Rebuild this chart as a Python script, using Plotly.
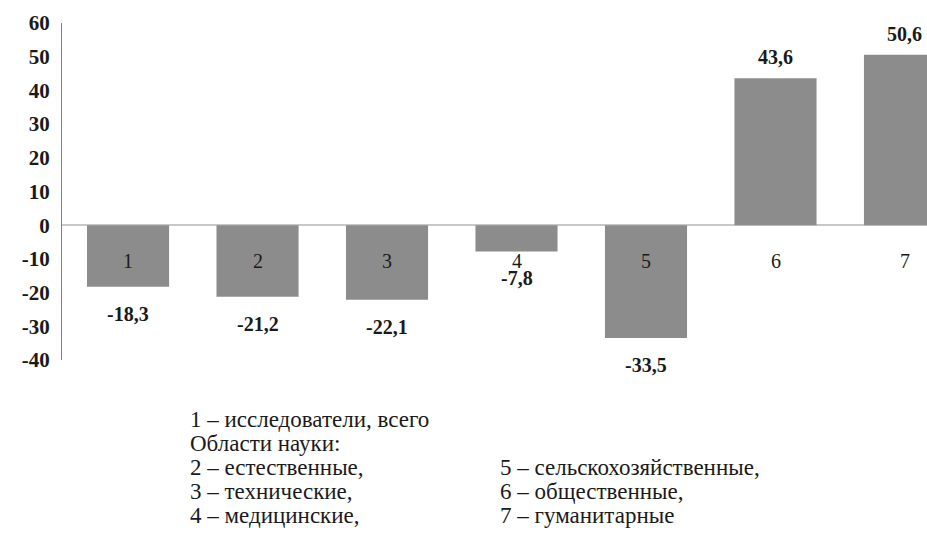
import plotly.graph_objects as go

categories = ["1", "2", "3", "4", "5", "6", "7"]
values = [-18.3, -21.2, -22.1, -7.8, -33.5, 43.6, 50.6]
y_ticks = [-40, -30, -20, -10, 0, 10, 20, 30, 40, 50, 60]

legend_col1 = [
    "1 – исследователи, всего",
    "Области науки:",
    "2 – естественные,",
    "3 – технические,",
    "4 – медицинские,",
]
legend_col2 = [
    "5 – сельскохозяйственные,",
    "6 – общественные,",
    "7 – гуманитарные",
]

W, H = 927, 540
L, R, T, B = 62, 0, 23, 180
PW, PH = W - L - R, H - T - B

FONT = "'Liberation Serif', 'Times New Roman', Tinos, 'DejaVu Serif', serif"
TXT = "#1a1a1a"

def px_to_paper(px, py):
    return (px - L) / PW, (H - B - py) / PH

xpos = list(range(len(categories)))

fig = go.Figure()
fig.add_trace(go.Bar(
    x=xpos, y=values, width=0.634,
    marker=dict(color="#8c8c8c", line=dict(width=0)),
    hoverinfo="skip",
))

annotations = []
for i, (c, v) in enumerate(zip(categories, values)):
    annotations.append(dict(
        x=i, y=-10.7, xref="x", yref="y", text=c, showarrow=False,
        font=dict(family=FONT, size=20, color=TXT),
        xanchor="center", yanchor="middle",
    ))
    lab = f"{v:.1f}".replace(".", ",")
    annotations.append(dict(
        x=i, y=v, xref="x", yref="y", text=f"<b>{lab}</b>", showarrow=False,
        font=dict(family=FONT, size=20, color=TXT),
        xanchor="center", yanchor="middle",
        yshift=(-27 if v < 0 else 21),
    ))

line_y = [419, 443, 467, 491, 515]
for i, t in enumerate(legend_col1):
    xp, yp = px_to_paper(188, line_y[i])
    annotations.append(dict(
        x=xp, y=yp, xref="paper", yref="paper", text=t, showarrow=False,
        font=dict(family=FONT, size=23, color=TXT),
        xanchor="left", yanchor="middle",
    ))
for i, t in enumerate(legend_col2):
    xp, yp = px_to_paper(498, line_y[i + 2])
    annotations.append(dict(
        x=xp, y=yp, xref="paper", yref="paper", text=t, showarrow=False,
        font=dict(family=FONT, size=23, color=TXT),
        xanchor="left", yanchor="middle",
    ))

fig.update_layout(
    width=W, height=H,
    margin=dict(l=L, r=R, t=T, b=B, pad=0, autoexpand=False),
    paper_bgcolor="white", plot_bgcolor="white",
    showlegend=False,
    annotations=annotations,
    xaxis=dict(
        range=[-0.51, 6.17], automargin=False,
        showticklabels=False, showgrid=False, zeroline=False, showline=False,
        ticks="",
    ),
    yaxis=dict(
        range=[-40, 60], tickvals=y_ticks, automargin=False,
        ticktext=[f"<b>{v}</b>" for v in y_ticks],
        tickfont=dict(family=FONT, size=21, color=TXT),
        showgrid=False, showline=True, linecolor="#808080", linewidth=1,
        zeroline=True, zerolinecolor="#c8c8c8", zerolinewidth=2,
        ticks="", ticklabelstandoff=7,
    ),
)

fig.write_html(
    "out.html",
    config={"displayModeBar": False, "staticPlot": True},
    post_script="document.body.style.margin='0';document.body.style.overflow='hidden';",
)
